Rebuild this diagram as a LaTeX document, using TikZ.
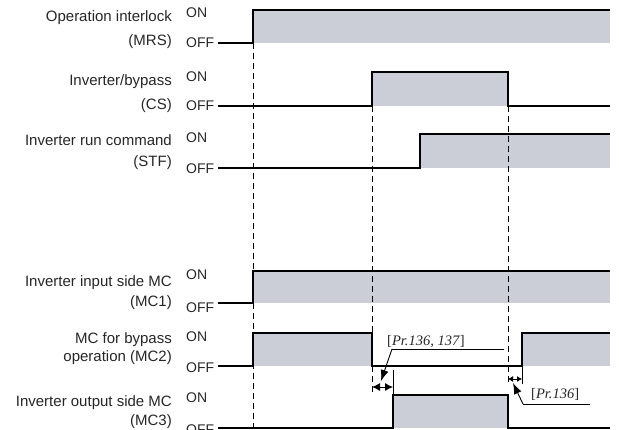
\documentclass[tikz,border=0pt]{standalone}
\usepackage{fontspec}
\setmainfont{Liberation Sans}
\newfontfamily\prfont{Liberation Serif}
\usepackage{xcolor}
\usetikzlibrary{arrows.meta}
\definecolor{sigfill}{RGB}{203,206,214}

\begin{document}
\begin{tikzpicture}[
  x=1pt,y=-1pt,
  every node/.style={font=\fontsize{15}{17}\selectfont,text=black!85,inner sep=0pt},
  lbl/.style={anchor=east},
  lvl/.style={anchor=west,font=\fontsize{14}{16}\selectfont},
  sig/.style={line width=2.2pt,line join=miter},
  fl/.style={fill=sigfill},
  dsh/.style={dash pattern=on 6pt off 4pt,line width=1pt},
  thn/.style={line width=0.9pt},
  dim/.style={thn,{Latex[length=8pt,width=8pt]}-{Latex[length=8pt,width=8pt]}},
  dims/.style={thn,{Latex[length=5pt,width=6pt]}-{Latex[length=5pt,width=6pt]}},
  ldr/.style={thn,-{Latex[length=11pt,width=8pt]}},
  pr/.style={font=\prfont\fontsize{14.5}{16}\selectfont,anchor=base west}]
  \useasboundingbox (0,0) rectangle (619,429);

  % --- signal names (left column)
  \node[lbl] (mrsA) at (172, 18) {Operation interlock};
  \node[lbl] (mrsB) at (172, 42) {(MRS)};
  \node[lbl] (csA)  at (172, 82) {Inverter/bypass};
  \node[lbl] (csB)  at (172,106) {(CS)};
  \node[lbl] (stfA) at (172,140) {Inverter run command};
  \node[lbl] (stfB) at (172,163) {(STF)};
  \node[lbl] (mcaA) at (172,283) {Inverter input side MC};
  \node[lbl] (mcaB) at (172,303) {(MC1)};
  \node[lbl] (mcbA) at (172,340) {MC for bypass};
  \node[lbl] (mcbB) at (172,358) {operation (MC2)};
  \node[lbl] (mccA) at (172,403) {Inverter output side MC};
  \node[lbl] (mccB) at (172,422) {(MC3)};

  % --- ON / OFF levels
  \foreach \nm/\yon/\yoff in {mrs/13/43,cs/77/106,stf/138/169,
                              mca/275/308,mcb/337/368,mcc/398/430}{
    \node[lvl] (\nm On)  at (186,\yon)  {ON};
    \node[lvl] (\nm Off) at (186,\yoff) {OFF};
  }

  % --- shaded ON periods
  \fill[fl] (253, 10) rectangle (610, 43);
  \fill[fl] (372, 72) rectangle (508,106);
  \fill[fl] (420,134) rectangle (610,168);
  \fill[fl] (253,271) rectangle (610,303);
  \fill[fl] (253,333) rectangle (372,366);
  \fill[fl] (522,333) rectangle (610,366);
  \fill[fl] (393,395) rectangle (508,428);

  % --- timing guides
  \draw[dsh] (253, 43) -- (253,429);
  \draw[dsh] (372,106) -- (372,393);
  \draw[dsh] (508,106) -- (508,383);

  % --- waveforms
  \draw[sig] (218, 43) -- (253, 43) -- (253, 10) -- (610, 10);
  \draw[sig] (218,106) -- (372,106) -- (372, 72) -- (508, 72)
             -- (508,106) -- (610,106);
  \draw[sig] (218,168) -- (420,168) -- (420,134) -- (610,134);
  \draw[sig] (218,303) -- (253,303) -- (253,271) -- (610,271);
  \draw[sig] (218,366) -- (253,366) -- (253,333) -- (372,333)
             -- (372,366) -- (522,366) -- (522,333) -- (610,333);
  \draw[sig] (218,428) -- (393,428) -- (393,395) -- (508,395)
             -- (508,428) -- (610,428);

  % --- switching delays
  \coordinate (dA1) at (372,387);
  \coordinate (dA2) at (393,387);
  \draw[thn] (393,370) -- (393,395);
  \draw[dim] (dA1) -- (dA2);
  \node[pr] (prA) at (387,345) {[\textit{Pr.136, 137}]};
  \coordinate (uA) at (504,349);
  \coordinate (kA) at (392,349);
  \coordinate (tA) at (381,381);
  \draw[thn] (uA) -- (kA);
  \draw[ldr] (kA) -- (tA);

  \coordinate (dB1) at (508,379);
  \coordinate (dB2) at (522,379);
  \draw[thn] (522,366) -- (522,384);
  \draw[dims] (dB1) -- (dB2);
  \node[pr] (prB) at (531,398) {[\textit{Pr.136}]};
  \coordinate (uB) at (590,404);
  \coordinate (kB) at (523,404);
  \coordinate (tB) at (513,383);
  \draw[thn] (uB) -- (kB);
  \draw[ldr] (kB) -- (tB);
\end{tikzpicture}
\end{document}
